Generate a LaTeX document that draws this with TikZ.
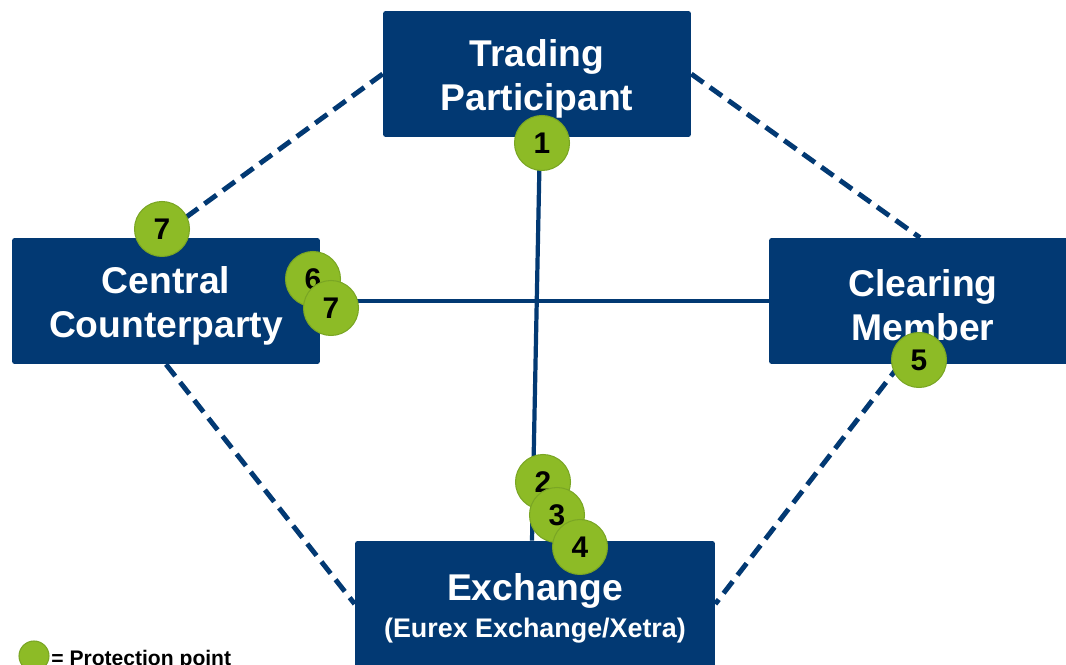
\documentclass[tikz,border=0pt]{standalone}
\usepackage{fontspec}
\setmainfont{Liberation Sans}
\usepackage{tikz}

\definecolor{eurexblue}{RGB}{2,57,115}
\definecolor{ppgreen}{RGB}{141,187,38}
\definecolor{ppedge}{RGB}{122,166,36}
\newcommand{\boxstrut}{\rule{0pt}{20.5pt}}

\begin{document}
\begin{tikzpicture}[x=0.02cm, y=-0.02cm,
    box/.style={fill=eurexblue, text=white, rounded corners=1.5pt,
        minimum width=6.16cm, minimum height=2.52cm, align=center,
        font=\fontsize{21.2}{25}\selectfont\bfseries},
    pp/.style={circle, fill=ppgreen, draw=ppedge, line width=0.6pt,
        minimum size=1.1cm, inner sep=0pt,
        font=\fontsize{17}{17}\selectfont\bfseries},
    solidlink/.style={eurexblue, line width=2.4pt},
    dashlink/.style={eurexblue, line width=2.8pt, dash pattern=on 8.5pt off 4.5pt}]
        \useasboundingbox (0,0) rectangle (1066,665);

        % the four parties
        \node[box] (tp) at (537,74) {\boxstrut Trading\\Participant};
        \node[box] (ccp) at (166,301) {\boxstrut Central\\Counterparty};
        \node[box] (cm) at (923,301) {\boxstrut Clearing\\Member};
        \node[box, minimum width=7.2cm] (ex) at (535,604)
        {\boxstrut Exchange\\[-4pt]{\fontsize{15.3}{18}\selectfont(Eurex Exchange/Xetra)}};

        % links
        \draw[solidlink] ([xshift=0.06cm]tp.south) -- ([xshift=-0.06cm]ex.north);
        \draw[solidlink] (ccp.east) -- (cm.west);
        \draw[dashlink] (tp.west) -- ([xshift=-0.16cm]ccp.north);
        \draw[dashlink] (tp.east) -- ([xshift=-0.06cm]cm.north);
        \draw[dashlink] (ccp.south) -- (ex.west);
        \draw[dashlink] ([xshift=-0.46cm]cm.south) -- (ex.east);

        % protection points
        \node[pp] (p1) at (542,143) {1};
        \node[pp] (p7a) at (162,229) {7};
        \node[pp] (p6) at (313,279) {6};
        \node[pp] (p7b) at (331,308) {7};
        \node[pp] (p5) at (919,360) {5};
        \node[pp] (p2) at (543,482) {2};
        \node[pp] (p3) at (557,515) {3};
        \node[pp] (p4) at (580,547) {4};

        % legend
        \node[pp, minimum size=0.6cm] (legdot) at (34,656) {};
        \node[anchor=base west, inner sep=0pt, font=\fontsize{12}{12}\selectfont\bfseries]
        (legtext) at (51,665) {= Protection point};
\end{tikzpicture}
\end{document}
